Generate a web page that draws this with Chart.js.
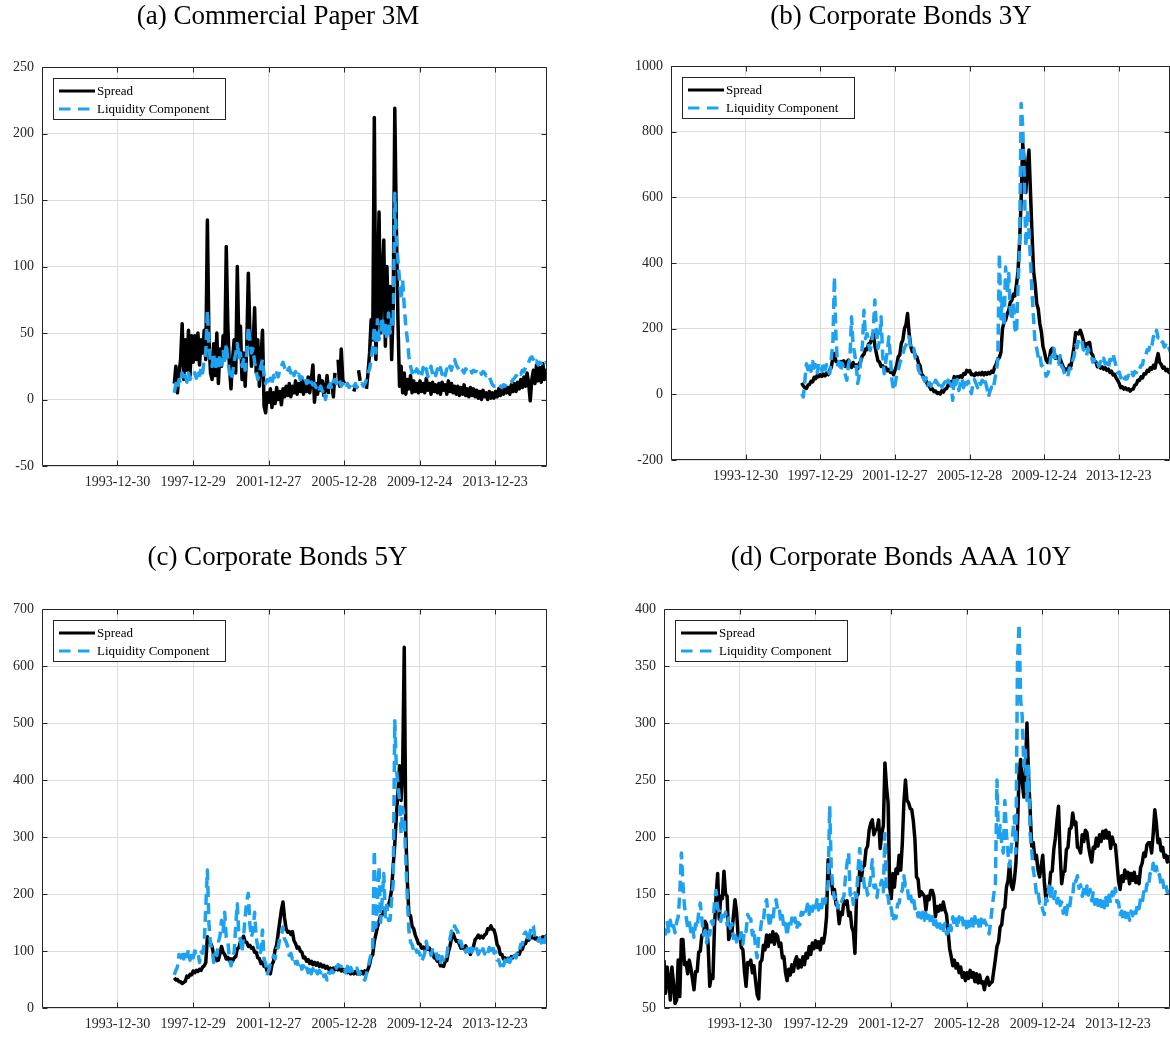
<!DOCTYPE html>
<html>
<head>
<meta charset="utf-8">
<script src="https://cdn.jsdelivr.net/npm/chart.js@4.4.1/dist/chart.umd.min.js"></script>
<style>
  html, body { margin: 0; padding: 0; background: #fff; overflow: hidden; }
  body { width: 1170px; height: 1037px; position: relative; }
  canvas { position: absolute; }
</style>
</head>
<body>
<canvas id="cp3m"></canvas>
<canvas id="cb3y"></canvas>
<canvas id="cb5y"></canvas>
<canvas id="cbaaa10y"></canvas>
<script>
// ---- x-axis tick dates and labels (shared by all four panels) ----
const tickLabels = ['1993-12-30', '1997-12-29', '2001-12-27', '2005-12-28', '2009-12-24', '2013-12-23'];
const xRange = [1990.0, 2016.72];

// ---- monthly series (basis points); first value belongs to the start year ----
const cp3mStart = 1997.0;
const cp3mSpread = [
  12, 25, 5, 20, 30, 57, 15, 45, 22, 52, 18, 48,
  28, 48, 30, 50, 26, 45, 35, 52, 30, 135, 45, 20,
  15, 42, 18, 50, 12, 38, 25, 48, 30, 115, 55, 25,
  8, 30, 45, 20, 100, 40, 55, 15, 35, 10, 40, 95,
  50, 25, 40, 69, 20, 45, 10, 30, 52, -5, -10, 5,
  -2, 8, -6, 5, -3, 9, 0, 6, -4, 8, 2, 10,
  3, 12, 2, 10, 5, 14, 4, 12, 6, 15, 4, 13,
  6, 17, 5, 15, 26, -2, 12, 4, 18, 7, 14, 3,
  8, 18, 4, null, 12, 2, 20, null, 30, 10, 38, 15,
  12, null, null, null, null, null, 6, 10, null, 22, 14, null,
  null, null, 8, 20, 35, 60, 45, 212, 30, 80, 141, 50,
  90, 120, 40, 100, 55, 85, 30, 70, 219, 130, 60, 10,
  25, 5, 20, 4, 15, 8, 18, 5, 14, 6, 12, 5,
  14, 6, 12, 5, 16, 7, 12, 4, 13, 6, 11, 5,
  12, 4, 13, 7, 11, 4, 14, 6, 12, 5, 10, 4,
  10, 3, 9, 4, 11, 3, 8, 2, 9, 3, 8, 2,
  7, 1, 6, 0, 7, 2, 5, 0, 6, 1, 5, 1,
  6, 2, 8, 3, 9, 4, 10, 5, 9, 4, 11, 6,
  12, 6, 13, 8, 15, 9, 17, 10, 20, 12, -1, 15,
  22, 12, 26, 14, 24, 13, 27, 15, 22, 18
];
const cp3mLiquidity = [
  5, 12, 8, 15, 12, 20, 14, 18, 13, 20, 15, 18,
  17, 20, 16, 22, 18, 24, 20, 30, 35, 67, 40, 28,
  25, 35, 22, 30, 24, 33, 26, 36, 28, 42, 30, 20,
  15, 20, 28, 35, 42, 30, 35, 25, 30, 22, 35, 55,
  45, 35, 38, 28, 22, 15, 20, 25, 30, 18, 12, 15,
  14, 16, 12, 18, 15, 20, 17, 22, 25, 28, 24, 20,
  22, 24, 20, 23, 18, 21, 17, 19, 15, 17, 14, 16,
  12, 14, 10, 13, 11, 12, 9, 11, 8, 10, 6, 8,
  0, 6, 10, 12, 8, 14, 15, 12, 16, 14, 10, 12,
  10, 8, 12, 9, 11, 8, 10, 12, 9, 11, 10, 12,
  10, 12, 15, 20, 23, 30, 40, 55, 35, 60, 45, 50,
  62, 48, 58, 45, 65, 50, 60, 55, 155, 120, 105, 90,
  75, 90, 70, 55, 45, 32, 25, 20, 24, 21, 23, 20,
  22, 18, 24, 20, 23, 17, 21, 25, 19, 22, 18, 23,
  20, 24, 19, 22, 18, 23, 21, 25, 22, 28, 30, 26,
  24, 21, 23, 22, 20, 23, 22, 21, 23, 20, 22, 21,
  21, 20, 22, 19, 21, 20, 18, 19, 17, 14, 11, 10,
  10, 9, 11, 10, 9, 11, 10, 12, 11, 12, 13, 15,
  16, 18, 17, 20, 19, 22, 21, 24, 25, 28, 31, 32,
  30, 27, 29, 26, 28, 27, 29, 27, 28, 27
];

const cb3yStart = 1997.0;
const cb3ySpread = [
  35, 26, 20, 18, 28, 30, 40, 38, 52, 48, 58, 54,
  60, 55, 62, 56, 65, 60, 75, 82, 112, 124, 100, 98,
  92, 100, 88, 102, 85, 98, 104, 90, 82, 97, 86, 90,
  78, 94, 102, 118, 122, 138, 136, 154, 156, 170, 185, 148,
  124, 102, 98, 85, 87, 77, 82, 72, 76, 67, 70, 60,
  74, 88, 114, 120, 155, 166, 200, 212, 246, 186, 148, 130,
  134, 116, 114, 96, 88, 62, 56, 42, 41, 27, 25, 15,
  17, 8, 10, 3, 5, 1, 11, 7, 15, 17, 28, 27,
  38, 36, 54, 49, 54, 51, 56, 52, 63, 61, 73, 69,
  72, 60, 61, 57, 65, 60, 65, 60, 67, 59, 66, 61,
  67, 63, 71, 67, 83, 92, 108, 112, 128, 200, 220, 226,
  245, 255, 280, 286, 305, 300, 335, 375, 465, 595, 764, 705,
  615, 695, 744, 615, 485, 375, 335, 276, 260, 215, 190, 146,
  128, 106, 97, 106, 134, 140, 134, 110, 114, 108, 109, 96,
  84, 72, 77, 74, 89, 86, 114, 146, 188, 186, 184, 195,
  181, 164, 140, 154, 156, 158, 126, 119, 100, 99, 84, 87,
  80, 84, 77, 81, 73, 77, 67, 71, 59, 61, 50, 43,
  33, 20, 23, 16, 20, 14, 17, 10, 15, 16, 28, 30,
  43, 42, 53, 50, 63, 62, 73, 70, 81, 77, 88, 80,
  104, 124, 97, 91, 80, 83, 72, 76, 67, 71
];
const cb3yLiquidity = [
  2, -8, 40, 93, 75, 95, 70, 100, 80, 90, 65, 95,
  93, 70, 100, 75, 90, 70, 63, 110, 155, 358, 175, 90,
  100, 70, 95, 75, 60, 43, 90, 110, 236, 150, 124, 90,
  33, 60, 104, 150, 256, 170, 185, 150, 134, 160, 200, 287,
  200, 140, 165, 236, 120, 63, 100, 130, 175, 110, 43, 12,
  30, 60, 73, 95, 110, 124, 140, 150, 165, 175, 140, 135,
  140, 110, 108, 74, 66, 45, 52, 40, 50, 28, 36, 25,
  40, 30, 43, 35, 28, 40, 22, 30, 38, 25, 43, 35,
  30, -18, 53, 30, 45, 12, 35, 50, 20, 43, 30, 40,
  20, 2, 30, 45, 33, 20, 40, 30, 43, 25, 38, 20,
  -8, 10, 22, 15, 43, 70, 104, 429, 230, 300, 205, 388,
  307, 368, 260, 225, 280, 200, 185, 327, 449, 886, 815, 663,
  449, 561, 500, 409, 307, 230, 150, 140, 112, 122, 88, 85,
  80, 55, 62, 75, 112, 115, 140, 104, 98, 92, 118, 85,
  78, 60, 64, 55, 80, 78, 102, 115, 150, 142, 170, 168,
  165, 135, 136, 118, 140, 124, 120, 98, 106, 90, 98, 85,
  100, 94, 110, 92, 96, 78, 106, 104, 124, 105, 85, 66,
  68, 50, 55, 40, 53, 47, 58, 53, 66, 57, 69, 66,
  80, 76, 88, 90, 116, 118, 136, 134, 156, 148, 176, 172,
  195, 172, 170, 154, 160, 144, 150, 134, 140, 128
];

const cb5yStart = 1997.0;
const cb5ySpread = [
  53, 49, 50, 46, 46, 43, 45, 47, 56, 54, 59, 58,
  65, 62, 66, 64, 68, 66, 72, 74, 80, 125, 116, 114,
  107, 94, 92, 83, 84, 96, 108, 98, 94, 86, 89, 83,
  86, 82, 88, 90, 104, 106, 117, 118, 126, 116, 115, 108,
  110, 105, 106, 98, 98, 88, 87, 78, 80, 73, 74, 64,
  63, 60, 76, 82, 102, 111, 132, 152, 172, 186, 158, 139,
  133, 134, 129, 134, 118, 113, 105, 107, 100, 98, 88, 89,
  82, 85, 78, 82, 76, 80, 75, 79, 73, 77, 72, 75,
  70, 73, 68, 70, 65, 70, 67, 72, 67, 70, 65, 68,
  64, 67, 62, 65, 60, 63, 60, 64, 60, 63, 60, 64,
  60, 65, 62, 68, 76, 90, 94, 117, 129, 142, 152, 162,
  163, 170, 170, 180, 180, 191, 208, 250, 288, 337, 378, 425,
  364, 420, 633, 306, 220, 163, 162, 143, 139, 128, 121, 113,
  112, 105, 107, 102, 108, 103, 105, 98, 97, 88, 87, 82,
  82, 74, 74, 73, 82, 83, 98, 108, 122, 131, 123, 117,
  118, 112, 105, 107, 104, 109, 103, 102, 94, 102, 108, 120,
  123, 128, 123, 126, 123, 128, 130, 139, 138, 144, 138, 137,
  127, 111, 107, 94, 94, 86, 88, 82, 87, 85, 90, 88,
  92, 90, 96, 94, 102, 103, 112, 113, 121, 119, 125, 123,
  127, 121, 123, 118, 121, 119, 125, 123, 126, 124
];
const cb5yLiquidity = [
  58, 66, 72, 94, 88, 100, 86, 101, 90, 102, 84, 98,
  88, 100, 98, 100, 80, 98, 96, 114, 177, 242, 148, 110,
  104, 80, 96, 92, 116, 126, 154, 134, 168, 124, 118, 86,
  74, 88, 98, 144, 183, 126, 120, 98, 126, 160, 188, 201,
  146, 124, 136, 168, 124, 106, 94, 100, 137, 86, 78, 60,
  66, 78, 80, 92, 86, 104, 106, 123, 126, 142, 121, 116,
  108, 92, 96, 86, 90, 78, 82, 72, 78, 68, 74, 64,
  70, 62, 72, 60, 69, 59, 65, 60, 66, 62, 67, 55,
  58, 49, 62, 61, 66, 62, 74, 70, 76, 74, 73, 63,
  66, 62, 73, 61, 71, 65, 69, 66, 70, 59, 62, 52,
  52, 49, 60, 70, 84, 95, 107, 277, 142, 189, 248, 150,
  190, 236, 160, 180, 154, 154, 190, 218, 504, 420, 393, 364,
  306, 352, 335, 259, 189, 135, 116, 111, 101, 107, 98, 99,
  94, 82, 88, 96, 117, 101, 104, 92, 102, 96, 99, 86,
  92, 80, 90, 84, 94, 91, 114, 121, 135, 132, 144, 138,
  134, 116, 117, 104, 108, 98, 104, 98, 108, 98, 104, 97,
  104, 94, 100, 94, 104, 95, 102, 96, 106, 101, 111, 96,
  99, 84, 84, 74, 83, 74, 84, 75, 86, 80, 87, 82,
  92, 88, 100, 98, 112, 111, 129, 133, 129, 115, 134, 146,
  144, 121, 123, 118, 123, 114, 124, 115, 125, 116
];

const cbAAAStart = 1990.0;
const cbAAASpread = [
  92, 63, 86, 75, 57, 86, 72, 54, 57, 92, 60, 110,
  110, 88, 90, 80, 92, 85, 76, 66, 82, 82, 99, 100,
  114, 114, 126, 123, 104, 69, 79, 76, 122, 148, 168, 128,
  148, 146, 170, 150, 148, 110, 114, 116, 131, 145, 134, 112,
  115, 103, 101, 82, 69, 90, 88, 92, 81, 87, 74, 62,
  58, 90, 92, 105, 101, 114, 104, 114, 108, 117, 106, 115,
  113, 104, 107, 94, 95, 81, 74, 84, 79, 88, 82, 91,
  95, 85, 92, 86, 95, 88, 98, 94, 104, 97, 107, 102,
  109, 103, 108, 101, 111, 107, 115, 130, 180, 165, 163, 150,
  154, 141, 139, 124, 134, 132, 144, 141, 144, 131, 134, 121,
  117, 98, 148, 150, 171, 162, 174, 175, 189, 192, 206, 212,
  215, 202, 206, 207, 215, 190, 203, 210, 265, 244, 230, 156,
  146, 168, 156, 172, 168, 184, 171, 194, 230, 250, 232, 230,
  225, 224, 214, 198, 165, 163, 148, 152, 150, 148, 136, 148,
  145, 153, 153, 148, 130, 139, 135, 140, 136, 143, 136, 132,
  118, 102, 95, 87, 92, 85, 89, 81, 86, 77, 81, 74,
  81, 76, 83, 77, 81, 73, 80, 72, 79, 72, 73, 66,
  74, 77, 70, 72, 73, 83, 93, 104, 108, 121, 123, 136,
  138, 156, 162, 177, 158, 154, 162, 177, 208, 256, 268, 248,
  235, 258, 300, 253, 224, 192, 195, 181, 184, 171, 165, 174,
  184, 161, 145, 154, 152, 169, 170, 189, 199, 214, 227, 186,
  159, 169, 170, 189, 191, 207, 208, 221, 211, 213, 191, 190,
  186, 202, 196, 206, 204, 192, 184, 178, 191, 190, 199, 192,
  202, 196, 205, 199, 206, 199, 204, 190, 200, 194, 193, 178,
  162, 154, 166, 161, 171, 164, 169, 159, 168, 162, 169, 160,
  165, 159, 173, 177, 186, 183, 193, 195, 195, 186, 203, 224,
  212, 195, 198, 188, 191, 182, 184, 178, 184
];
const cbAAALiquidity = [
  120, 115, 125, 117, 127, 118, 122, 116, 125, 130, 150, 186,
  159, 139, 130, 121, 126, 117, 122, 112, 124, 120, 134, 142,
  128, 114, 118, 107, 119, 114, 126, 123, 143, 153, 137, 135,
  126, 135, 130, 134, 123, 129, 120, 124, 111, 117, 108, 114,
  111, 116, 106, 119, 117, 132, 129, 128, 114, 119, 103, 94,
  113, 117, 128, 126, 141, 145, 131, 121, 131, 126, 141, 145,
  136, 138, 126, 131, 120, 124, 113, 124, 120, 129, 123, 129,
  119, 125, 123, 134, 132, 138, 135, 141, 132, 142, 135, 143,
  138, 145, 136, 143, 138, 149, 142, 150, 159, 227, 172, 156,
  146, 149, 138, 143, 141, 145, 148, 165, 177, 186, 149, 152,
  141, 151, 147, 172, 190, 172, 170, 156, 159, 149, 154, 165,
  180, 156, 158, 147, 159, 158, 162, 152, 203, 150, 148, 136,
  138, 126, 131, 129, 141, 142, 151, 153, 166, 157, 158, 146,
  151, 143, 148, 137, 139, 130, 136, 129, 134, 127, 133, 126,
  131, 124, 130, 123, 128, 121, 127, 120, 125, 118, 124, 115,
  116, 125, 118, 130, 122, 128, 120, 130, 124, 129, 120, 126,
  118, 126, 120, 128, 122, 130, 121, 127, 118, 128, 122, 127,
  124, 120, 115, 125, 139, 150, 159, 250, 197, 210, 195, 186,
  232, 203, 185, 174, 190, 203, 218, 186, 355, 387, 320, 306,
  262, 276, 232, 262, 203, 188, 171, 163, 150, 153, 142, 143,
  136, 132, 146, 144, 157, 148, 155, 146, 152, 142, 149, 140,
  143, 133, 138, 132, 142, 138, 149, 148, 164, 161, 166, 155,
  158, 148, 154, 148, 157, 149, 154, 144, 151, 141, 149, 140,
  147, 139, 146, 138, 147, 140, 149, 142, 152, 146, 155, 143,
  143, 132, 135, 127, 134, 127, 133, 127, 135, 131, 138, 133,
  141, 137, 146, 142, 152, 149, 159, 156, 168, 166, 177, 169,
  174, 165, 167, 157, 162, 154, 158, 151, 155
];

// ---- styling ----
const INK = '#262626';
const GRID = '#dedede';
const BLUE = '#1da1f2';
const SERIF = '"Liberation Serif", "Times New Roman", serif';

// decimal year of an ISO date string, used to place the date ticks
function decimalYear(s) {
  const [y, m, d] = s.split('-').map(Number);
  const t0 = Date.UTC(y, 0, 1), t1 = Date.UTC(y + 1, 0, 1);
  return y + (Date.UTC(y, m - 1, d) - t0) / (t1 - t0);
}
const tickYears = tickLabels.map(decimalYear);

function toPoints(start, values) {
  return values.map((v, i) => ({ x: start + i / 12, y: v }));
}

// axis box with inward tick marks on all four sides
const framePlugin = {
  id: 'frame',
  afterDatasetsDraw(chart) {
    const { ctx, chartArea: a, scales: { x, y } } = chart;
    const L = Math.round(a.left) + 0.5, R = Math.round(a.right) - 0.5;
    const T = Math.round(a.top) + 0.5, B = Math.round(a.bottom) - 0.5;
    const tk = 5;
    ctx.save();
    ctx.strokeStyle = INK;
    ctx.lineWidth = 1;
    ctx.beginPath();
    ctx.rect(L, T, R - L, B - T);
    x.ticks.forEach(t => {
      const px = Math.round(x.getPixelForValue(t.value)) + 0.5;
      ctx.moveTo(px, B); ctx.lineTo(px, B - tk);
      ctx.moveTo(px, T); ctx.lineTo(px, T + tk);
    });
    y.ticks.forEach(t => {
      const py = Math.round(y.getPixelForValue(t.value)) + 0.5;
      ctx.moveTo(L, py); ctx.lineTo(L + tk, py);
      ctx.moveTo(R, py); ctx.lineTo(R - tk, py);
    });
    ctx.stroke();
    ctx.restore();
  }
};

// boxed legend in the upper-left corner of the plot area
const boxLegendPlugin = {
  id: 'boxLegend',
  afterDraw(chart) {
    const { ctx, chartArea: a } = chart;
    const x0 = Math.round(a.left) + 11, y0 = Math.round(a.top) + 11;
    const w = 172, h = 41;
    ctx.save();
    ctx.fillStyle = '#fff';
    ctx.fillRect(x0, y0, w, h);
    ctx.strokeStyle = INK;
    ctx.lineWidth = 1;
    ctx.strokeRect(x0 + 0.5, y0 + 0.5, w, h);
    chart.data.datasets.forEach((ds, k) => {
      const yy = y0 + 13 + k * 18;
      const dashed = Array.isArray(ds.borderDash) && ds.borderDash.length > 0;
      ctx.strokeStyle = ds.borderColor;
      ctx.lineWidth = 3;
      ctx.setLineDash(dashed ? [11.5, 7.5] : []);
      ctx.beginPath();
      ctx.moveTo(x0 + 6, yy);
      ctx.lineTo(x0 + (dashed ? 37 : 42), yy);
      ctx.stroke();
      ctx.setLineDash([]);
      ctx.fillStyle = '#000';
      ctx.font = '13px ' + SERIF;
      ctx.textBaseline = 'middle';
      ctx.textAlign = 'left';
      ctx.fillText(ds.label, x0 + 44, yy + 0.5);
    });
    ctx.restore();
  }
};

function makeChart(id, cfg) {
  const canvas = document.getElementById(id);
  canvas.width = cfg.w;
  canvas.height = cfg.h;
  canvas.style.left = cfg.left + 'px';
  canvas.style.top = cfg.top + 'px';
  const tickFont = { family: SERIF, size: 14 };
  return new Chart(canvas, {
    type: 'line',
    data: {
      datasets: [
        { label: 'Spread', data: toPoints(cfg.start, cfg.spread),
          borderColor: '#000', borderWidth: 3.5, order: 2 },
        { label: 'Liquidity Component', data: toPoints(cfg.start, cfg.liquidity),
          borderColor: BLUE, borderWidth: 3.5, borderDash: [11, 6], order: 1 }
      ]
    },
    options: {
      responsive: false,
      animation: false,
      devicePixelRatio: 1,
      layout: { padding: 0 },
      elements: {
        point: { radius: 0, hoverRadius: 0 },
        line: { tension: 0, borderJoinStyle: 'round', borderCapStyle: 'butt' }
      },
      datasets: { line: { spanGaps: false, clip: 0 } },
      scales: {
        x: {
          type: 'linear',
          min: xRange[0],
          max: xRange[1],
          afterBuildTicks: ax => { ax.ticks = tickYears.map(v => ({ value: v })); },
          afterFit: s => { s.height = 29; },
          ticks: {
            callback: (v, i) => tickLabels[i],
            autoSkip: false, maxRotation: 0, minRotation: 0,
            padding: 8, color: INK, font: tickFont
          },
          grid: { color: GRID, lineWidth: 1, drawTicks: false },
          border: { display: false }
        },
        y: {
          min: cfg.yMin,
          max: cfg.yMax,
          afterFit: s => { s.width = cfg.yWidth; },
          ticks: {
            stepSize: cfg.yStep,
            callback: v => String(v),
            padding: 8, color: INK, font: tickFont
          },
          grid: { color: GRID, lineWidth: 1, drawTicks: false },
          border: { display: false }
        }
      },
      plugins: {
        legend: { display: false },
        tooltip: { enabled: false },
        title: {
          display: true,
          text: cfg.title,
          color: '#000',
          font: { family: SERIF, size: 27, weight: 'normal', lineHeight: 1.2 },
          padding: { top: 0.8, bottom: cfg.titleGap }
        }
      }
    },
    plugins: [framePlugin, boxLegendPlugin]
  });
}

makeChart('cp3m', {
  title: '(a) Commercial Paper 3M',
  start: cp3mStart, spread: cp3mSpread, liquidity: cp3mLiquidity,
  yMin: -50, yMax: 250, yStep: 50,
  left: 9, top: 0, w: 538, h: 495, yWidth: 33, titleGap: 33.8
});
makeChart('cb3y', {
  title: '(b) Corporate Bonds 3Y',
  start: cb3yStart, spread: cb3ySpread, liquidity: cb3yLiquidity,
  yMin: -200, yMax: 1000, yStep: 200,
  left: 632, top: 0, w: 538, h: 489, yWidth: 39, titleGap: 32.8
});
makeChart('cb5y', {
  title: '(c) Corporate Bonds 5Y',
  start: cb5yStart, spread: cb5ySpread, liquidity: cb5yLiquidity,
  yMin: 0, yMax: 700, yStep: 100,
  left: 8, top: 541, w: 539, h: 496, yWidth: 34, titleGap: 34.8
});
makeChart('cbaaa10y', {
  title: '(d) Corporate Bonds AAA 10Y',
  start: cbAAAStart, spread: cbAAASpread, liquidity: cbAAALiquidity,
  yMin: 50, yMax: 400, yStep: 50,
  left: 632, top: 541, w: 538, h: 496, yWidth: 32, titleGap: 34.8
});
</script>
</body>
</html>
